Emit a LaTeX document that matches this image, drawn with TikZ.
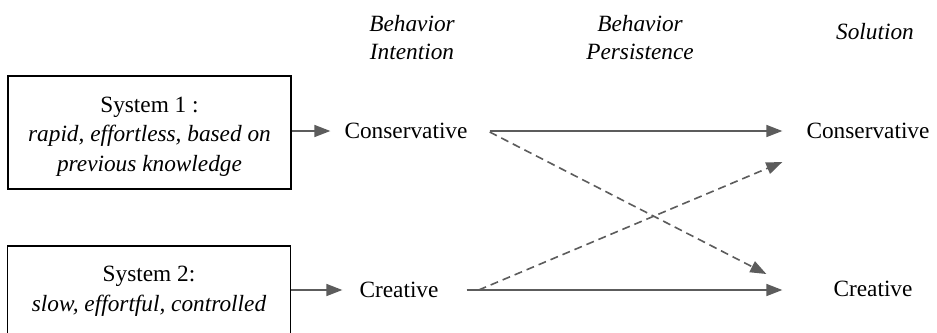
\documentclass[tikz,border=0pt]{standalone}
\usepackage{fontspec}
\setmainfont{Liberation Serif}
\usetikzlibrary{arrows.meta,calc}
\definecolor{arrowgray}{HTML}{5C5C5C}
\tikzset{
  sysbox/.style={draw=black,line width=1.8pt,minimum width=283pt,inner sep=0pt},
  systext/.style={inner sep=0pt,align=center,font=\fontsize{23.3}{29.5}\selectfont},
  label/.style={inner sep=0pt,font=\fontsize{23.3}{28}\selectfont},
  header/.style={inner sep=0pt,align=center,font=\fontsize{23.3}{28}\selectfont\itshape},
  conn/.style={draw=arrowgray,line width=1.6pt,-{Triangle[length=16pt,width=12pt]}},
  dconn/.style={conn,dash pattern=on 8pt off 5pt}
}
\begin{document}
\begin{tikzpicture}[x=1pt,y=-1pt]
\clip (0,0) rectangle (937,332);
\fill[white] (0,0) rectangle (937,332);
% headers
\node[header] (hint) at (412,38) {Behavior\\Intention};
\node[header] (hper) at (640,38) {Behavior\\Persistence};
\node[header] (hsol) at (875,32) {Solution};
% system boxes
\node[sysbox,minimum height=113pt] (s1) at (149.5,132.5) {};
\node[systext] (s1t) at ($(s1.center)+(0,4)$) {System 1 :\\\itshape rapid, effortless, based on\\\itshape previous knowledge};
\node[sysbox,minimum height=89pt,anchor=north] (s2) at (149,245) {};
\node[systext] (s2t) at (149,291.5) {System 2:\\\itshape slow, effortful, controlled};
% intention nodes
\node[label] (ic) at (406,131) {Conservative};
\node[label] (ir) at (399,290) {Creative};
% solution nodes
\node[label] (sc) at (868,131) {Conservative};
\node[label] (sr) at (873,289) {Creative};
% connectors
\draw[conn] (s1.east |- ic) -- ($(ic.west)+(-14,0)$);
\draw[conn] (s2.east |- ir) -- ($(ir.west)+(-17,0)$);
\draw[conn] ($(ic.east)+(22,0)$) -- ($(sc.west)+(-24,0)$);
\draw[conn] ($(ir.east)+(28,0)$) -- ($(sc.west |- ir)+(-24,0)$);
\draw[dconn] ($(ic.east)+(22,1)$) -- ($(sr.west)+(-67,-15)$);
\draw[dconn] ($(ir.east)+(40,0)$) -- ($(sc.west)+(-24,31)$);
\end{tikzpicture}
\end{document}
